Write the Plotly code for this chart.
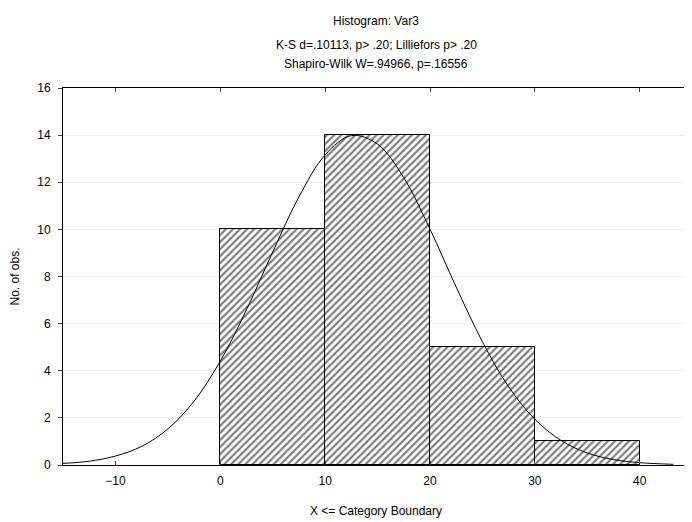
import plotly.graph_objects as go

# Histogram data
bin_centers = [5, 15, 25, 35]
bin_counts = [10, 14, 5, 1]
bin_width = 10

# Fitted normal curve
curve_x = [-15, -12.5, -10, -7.5, -5, -2.5, 0, 2.5, 5, 7.5, 10, 12.5, 15, 17.5,
           20, 22.5, 25, 27.5, 30, 32.5, 35, 37.5, 40, 42.5, 43.2]
curve_y = [0.07, 0.16, 0.38, 0.79, 1.53, 2.71, 4.41, 6.59, 9.04, 11.38, 13.16, 13.98,
           13.62, 12.19, 10.01, 7.55, 5.23, 3.32, 1.94, 1.04, 0.51, 0.23, 0.10, 0.04, 0.03]

x_ticks = [-10, 0, 10, 20, 30, 40]
y_ticks = [0, 2, 4, 6, 8, 10, 12, 14, 16]

title_lines = ["Histogram: Var3",
               "K-S d=.10113, p> .20; Lilliefors p> .20",
               "Shapiro-Wilk W=.94966, p=.16556"]

FONT = "Liberation Sans, Arial, sans-serif"

W, H = 684, 514
ML, MR, MT, MB = 55, 3, 80, 57

fig = go.Figure()
fig.add_trace(go.Bar(
    x=bin_centers, y=bin_counts, width=[bin_width] * len(bin_centers),
    marker=dict(color="white", line=dict(color="black", width=1),
                pattern=dict(shape="/", fgcolor="black", bgcolor="white",
                             size=5, solidity=0.45)),
    showlegend=False,
))
fig.add_trace(go.Scatter(
    x=curve_x, y=curve_y, mode="lines",
    line=dict(color="black", width=1, shape="spline"),
    showlegend=False,
))

fig.update_layout(
    width=W, height=H,
    margin=dict(l=ML, r=MR, t=MT, b=MB),
    paper_bgcolor="white", plot_bgcolor="white",
    bargap=0,
    font=dict(family=FONT, size=12, color="black"),
)
fig.update_xaxes(
    range=[-15, 44.7], tickvals=x_ticks, ticks="inside", ticklen=4,
    showline=True, linecolor="black", linewidth=1, mirror="ticks",
    showgrid=False, zeroline=False, automargin=False,
    ticklabelstandoff=5,
    title=dict(text="X <= Category Boundary", font=dict(size=12), standoff=19),
    tickfont=dict(size=12),
)
fig.update_yaxes(
    range=[0, 16], tickvals=y_ticks, ticks="outside", ticklen=4,
    showline=True, linecolor="black", linewidth=1, mirror="ticks",
    showgrid=True, gridcolor="#efefef", zeroline=False, automargin=False,
    ticklabelstandoff=5,
    title=dict(text="No. of obs.", font=dict(size=12), standoff=16),
    tickfont=dict(size=12),
)

ys = [13, 37, 56]
plot_h = H - MT - MB
for txt, yy in zip(title_lines, ys):
    fig.add_annotation(text=txt, xref="paper", yref="paper",
                       x=0.5, y=1 + (MT - yy) / plot_h,
                       xanchor="center", yanchor="middle", showarrow=False,
                       font=dict(size=12, family=FONT))

fig.write_html("out.html")
